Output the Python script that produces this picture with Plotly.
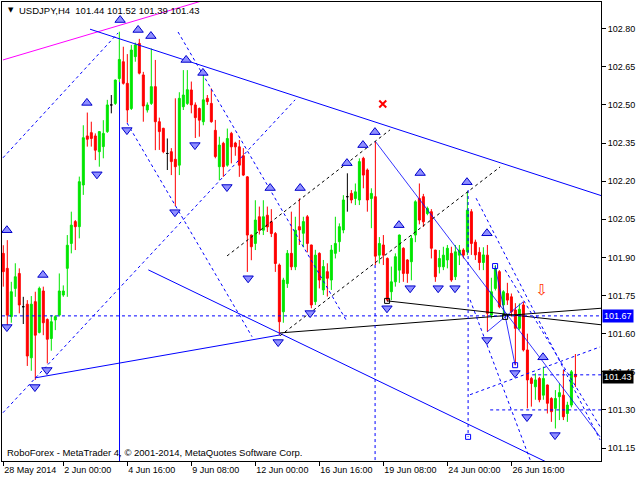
import plotly.graph_objects as go

# ---------------- data ----------------
opens = [101.916, 101.857, 101.667, 101.778, 101.837, 101.706, 101.716, 101.505, 101.726, 101.605,
         101.768, 101.656, 101.581, 101.654, 101.673, 101.752, 101.857, 101.955, 102.041, 102.021,
         102.185, 102.378, 102.391, 102.378, 102.316, 102.336, 102.395, 102.500, 102.506, 102.604,
         102.670, 102.585, 102.486, 102.690, 102.742, 102.618, 102.480, 102.506, 102.572, 102.434,
         102.408, 102.309, 102.316, 102.286, 102.263, 102.493, 102.506, 102.559, 102.500, 102.486,
         102.434, 102.526, 102.506, 102.400, 102.257, 102.349, 102.263, 102.388, 102.350, 102.335,
         102.300, 102.217, 101.988, 101.955, 102.060, 102.007, 102.066, 102.040, 101.994, 101.870,
         101.686, 101.797, 101.916, 101.863, 102.021, 101.995, 102.060, 101.949, 101.726, 101.916,
         101.772, 101.844, 101.811, 101.916, 101.962, 102.008, 102.139, 102.152, 102.132, 102.126,
         102.290, 102.244, 102.132, 102.139, 101.909, 101.949, 101.896, 101.765, 101.804, 101.850,
         101.936, 101.890, 101.883, 101.988, 102.132, 102.139, 102.073, 102.080, 101.929, 101.863,
         101.863, 101.890, 101.916, 101.824, 101.909, 101.929, 101.922, 102.080, 101.960, 101.920,
         101.880, 101.909, 101.673, 101.778, 101.844, 101.713, 101.758, 101.745, 101.693, 101.621,
         101.713, 101.536, 101.424, 101.391, 101.424, 101.358, 101.398, 101.345, 101.306, 101.352,
         101.358, 101.286, 101.319, 101.440]
highs = [101.948, 101.968, 101.804, 101.877, 101.857, 101.745, 101.732, 101.748, 101.765, 101.785,
         101.785, 101.660, 101.673, 101.673, 101.837, 101.790, 101.988, 102.080, 102.047, 102.218,
         102.420, 102.470, 102.434, 102.388, 102.395, 102.440, 102.520, 102.539, 102.600, 102.788,
         102.729, 102.700, 102.736, 102.745, 102.760, 102.630, 102.510, 102.722, 102.677, 102.450,
         102.410, 102.368, 102.330, 102.526, 102.550, 102.637, 102.637, 102.592, 102.510, 102.490,
         102.624, 102.539, 102.565, 102.441, 102.375, 102.355, 102.407, 102.394, 102.355, 102.362,
         102.330, 102.220, 101.990, 102.125, 102.100, 102.125, 102.100, 102.090, 102.000, 101.876,
         101.820, 101.929, 102.080, 102.060, 102.132, 102.060, 102.067, 101.950, 101.930, 101.920,
         101.890, 101.877, 101.949, 102.060, 102.034, 102.145, 102.231, 102.165, 102.191, 102.290,
         102.296, 102.250, 102.172, 102.355, 101.980, 101.988, 101.900, 101.864, 101.916, 101.990,
         101.940, 101.893, 101.988, 102.125, 102.191, 102.150, 102.100, 102.090, 101.930, 101.929,
         101.942, 101.949, 101.942, 101.949, 101.949, 101.936, 102.159, 102.090, 101.970, 101.940,
         101.940, 101.949, 101.820, 101.870, 101.850, 101.771, 101.800, 101.758, 101.720, 101.719,
         101.726, 101.600, 101.430, 101.444, 101.430, 101.470, 101.400, 101.350, 101.378, 101.404,
         101.457, 101.332, 101.457, 101.520]
lows = [101.785, 101.621, 101.643, 101.745, 101.680, 101.638, 101.473, 101.454, 101.418, 101.601,
        101.594, 101.483, 101.533, 101.614, 101.667, 101.745, 101.745, 101.916, 101.929, 101.975,
        102.146, 102.336, 102.336, 102.283, 102.257, 102.290, 102.390, 102.467, 102.500, 102.590,
        102.580, 102.430, 102.480, 102.670, 102.620, 102.434, 102.470, 102.500, 102.322, 102.323,
        102.310, 102.244, 102.224, 102.102, 102.224, 102.480, 102.500, 102.467, 102.370, 102.375,
        102.420, 102.500, 102.430, 102.290, 102.204, 102.217, 102.257, 102.270, 102.300, 102.217,
        102.220, 101.843, 101.889, 101.929, 101.990, 101.988, 102.000, 101.980, 101.843, 101.594,
        101.643, 101.780, 101.850, 101.850, 101.949, 101.940, 101.920, 101.700, 101.713, 101.778,
        101.752, 101.746, 101.772, 101.896, 101.922, 101.995, 102.080, 102.113, 102.106, 102.106,
        102.172, 102.080, 102.015, 101.870, 101.876, 101.870, 101.726, 101.732, 101.785, 101.800,
        101.804, 101.800, 101.810, 101.960, 102.030, 102.020, 102.066, 101.896, 101.804, 101.837,
        101.850, 101.857, 101.804, 101.811, 101.870, 101.896, 101.909, 101.910, 101.890, 101.850,
        101.850, 101.608, 101.660, 101.770, 101.700, 101.667, 101.713, 101.667, 101.476, 101.615,
        101.530, 101.306, 101.313, 101.340, 101.330, 101.340, 101.286, 101.253, 101.227, 101.260,
        101.260, 101.253, 101.310, 101.390]
closes = [101.844, 101.673, 101.765, 101.824, 101.713, 101.706, 101.512, 101.716, 101.594, 101.778,
          101.643, 101.578, 101.647, 101.667, 101.768, 101.768, 101.948, 102.027, 102.021, 102.198,
          102.371, 102.365, 102.368, 102.322, 102.395, 102.388, 102.500, 102.500, 102.598, 102.679,
          102.585, 102.480, 102.716, 102.736, 102.625, 102.496, 102.500, 102.572, 102.434, 102.395,
          102.316, 102.309, 102.277, 102.257, 102.526, 102.539, 102.560, 102.500, 102.450, 102.440,
          102.520, 102.513, 102.434, 102.297, 102.342, 102.257, 102.368, 102.335, 102.335, 102.263,
          102.224, 101.988, 101.942, 102.047, 102.007, 102.060, 102.020, 101.994, 101.876, 101.647,
          101.811, 101.916, 101.863, 102.007, 102.008, 102.041, 101.955, 101.713, 101.909, 101.811,
          101.864, 101.818, 101.929, 101.955, 102.021, 102.126, 102.139, 102.126, 102.158, 102.277,
          102.224, 102.126, 102.152, 101.905, 101.955, 101.909, 101.732, 101.804, 101.903, 101.988,
          101.837, 101.837, 101.975, 102.119, 102.047, 102.040, 102.093, 101.936, 101.824, 101.896,
          101.909, 101.936, 101.811, 101.922, 101.929, 101.909, 102.086, 101.955, 101.910, 101.880,
          101.910, 101.680, 101.765, 101.857, 101.706, 101.765, 101.732, 101.686, 101.621, 101.696,
          101.536, 101.418, 101.404, 101.418, 101.340, 101.424, 101.326, 101.293, 101.345, 101.368,
          101.273, 101.319, 101.450, 101.430]
bars = list(range(len(opens)))

tick_bars = [0, 15, 31, 47, 63, 79, 95, 111, 127]
tick_labels = ["28 May 2014", "2 Jun 00:00", "4 Jun 16:00", "9 Jun 08:00", "12 Jun 00:00",
               "16 Jun 16:00", "19 Jun 08:00", "24 Jun 00:00", "26 Jun 16:00"]
price_ticks = [101.15, 101.30, 101.45, 101.60, 101.75, 101.90, 102.05, 102.20, 102.35, 102.50, 102.65, 102.80]

up_arrow_bar = [0.9, 9.9, 20.9, 29.2, 33.7, 36.9, 45.7, 49.9, 66.7, 74.2, 85.9, 89.9, 92.9,
                98.9, 104.2, 115.9, 120.9, 134.9]
up_arrow_price = [102.007, 101.831, 102.508, 102.834, 102.795, 102.771, 102.677, 102.626, 102.173,
                  102.173, 102.271, 102.342, 102.393, 102.027, 102.232, 102.196, 101.995, 101.507]
down_arrow_bar = [0.9, 7.9, 10.9, 23.4, 30.9, 42.9, 47.9, 55.9, 61.2, 68.7, 76.7, 95.9, 101.7,
                  108.7, 112.9, 120.9, 127.9, 130.9, 137.9]
down_arrow_price = [101.626, 101.390, 101.457, 102.227, 102.401, 102.078, 102.342, 102.177, 101.818,
                    101.567, 101.681, 101.700, 101.779, 101.779, 101.779, 101.575, 101.445, 101.272, 101.201]

# drawn objects: (bar0, price0, bar1, price1)
magenta_lines = [(-0.08, 102.677, 50.43, 102.913)]
blue_solid = [(21.68, 102.798, 149.68, 102.142),
              (36.25, 101.851, 139.18, 101.069),
              (7.93, 101.426, 69.18, 101.595),
              (29.05, 102.59, 29.05, 101.099)]
blue_thin = [(92.93, 102.358, 149.18, 101.194),
             (122.93, 101.866, 127.93, 101.476),
             (120.93, 101.607, 129.93, 101.725)]
black_solid = [(69.18, 101.603, 149.43, 101.700),
               (95.93, 101.729, 149.43, 101.635)]
blue_dashed = [(-0.08, 102.292, 28.68, 102.783),
               (-0.08, 101.289, 72.93, 102.520),
               (30.93, 102.429, 62.18, 101.588),
               (43.68, 102.787, 85.93, 101.647),
               (-0.33, 101.67, 149.4, 101.67),
               (92.93, 101.87, 92.93, 101.099),
               (116.18, 102.165, 116.18, 101.194),
               (118.18, 102.133, 149.18, 101.182),
               (116.68, 101.733, 131.68, 101.104),
               (125.43, 101.851, 149.18, 101.234),
               (116.68, 101.360, 149.18, 101.548),
               (121.7, 101.300, 149.4, 101.300),
               (132.2, 101.438, 149.4, 101.438)]
black_dashed = [(55.93, 101.906, 96.68, 102.402),
                (69.18, 101.592, 124.18, 102.256)]
black_squares = [(95.93, 101.729), (125.43, 101.666)]
blue_squares = [(122.93, 101.866), (127.93, 101.476), (116.18, 101.194)]
red_cross = (94.85, 102.504)
red_sell_arrow = (134.6, 101.766)

FONT = "Liberation Sans"
GREEN = "#00e600"
RED = "#ff0000"
BLUE = "#0000ff"

fig = go.Figure()

normal = [i for i in bars if opens[i] != closes[i]]
doji = [i for i in bars if opens[i] == closes[i]]

fig.add_trace(go.Candlestick(
    x=[bars[i] for i in normal], open=[opens[i] for i in normal], high=[highs[i] for i in normal],
    low=[lows[i] for i in normal], close=[closes[i] for i in normal],
    increasing=dict(line=dict(color=GREEN, width=1), fillcolor=GREEN),
    decreasing=dict(line=dict(color=RED, width=1), fillcolor=RED),
    whiskerwidth=0, showlegend=False, hoverinfo="skip"))
fig.add_trace(go.Candlestick(
    x=[bars[i] for i in doji], open=[opens[i] for i in doji], high=[highs[i] for i in doji],
    low=[lows[i] for i in doji], close=[closes[i] for i in doji],
    increasing=dict(line=dict(color="black", width=1), fillcolor="black"),
    decreasing=dict(line=dict(color="black", width=1), fillcolor="black"),
    whiskerwidth=0, showlegend=False, hoverinfo="skip"))


def add_segments(segs, color, width, dash="solid"):
    xs, ys = [], []
    for b0, p0, b1, p1 in segs:
        xs += [b0, b1, None]
        ys += [p0, p1, None]
    fig.add_trace(go.Scatter(x=xs, y=ys, mode="lines", line=dict(color=color, width=width, dash=dash),
                             showlegend=False, hoverinfo="skip", connectgaps=False))


add_segments(magenta_lines, "#ff00ff", 1)
add_segments(blue_solid, BLUE, 1)
add_segments(blue_thin, BLUE, 0.8)
add_segments(black_solid, "black", 1)
add_segments(blue_dashed, BLUE, 1, "3px,3px")
add_segments(black_dashed, "black", 1, "3px,3px")

fig.add_trace(go.Scatter(x=[b for b, p in black_squares], y=[p for b, p in black_squares], mode="markers",
                         marker=dict(symbol="square-open", size=5, color="black", line=dict(width=1)),
                         showlegend=False, hoverinfo="skip"))
fig.add_trace(go.Scatter(x=[b for b, p in blue_squares], y=[p for b, p in blue_squares], mode="markers",
                         marker=dict(symbol="square-open", size=5, color=BLUE, line=dict(width=1)),
                         showlegend=False, hoverinfo="skip"))

fig.add_trace(go.Scatter(x=up_arrow_bar, y=up_arrow_price, mode="markers",
                         marker=dict(symbol="triangle-up", size=9, color="#8f8fff",
                                     line=dict(color="#0000cc", width=1)),
                         showlegend=False, hoverinfo="skip"))
fig.add_trace(go.Scatter(x=down_arrow_bar, y=down_arrow_price, mode="markers",
                         marker=dict(symbol="triangle-down", size=9, color="#8f8fff",
                                     line=dict(color="#0000cc", width=1)),
                         showlegend=False, hoverinfo="skip"))
fig.add_trace(go.Scatter(x=[red_cross[0]], y=[red_cross[1]], mode="markers",
                         marker=dict(symbol="x-thin", size=7, line=dict(color=RED, width=2)),
                         showlegend=False, hoverinfo="skip"))
fig.add_trace(go.Scatter(x=[red_sell_arrow[0]], y=[red_sell_arrow[1]], mode="text", text=["⇩"],
                         textfont=dict(family="DejaVu Sans", size=15, color="#ff3300"),
                         showlegend=False, hoverinfo="skip"))

# plot area in pixels: x 2..601, y 2..461
def px(xp):
    return (xp - 2) / 599.0


def py(yp):
    return (461 - yp) / 459.0


fig.add_annotation(x=px(6), y=py(10), xref="paper", yref="paper", text="▼", showarrow=False,
                   xanchor="left", yanchor="middle", font=dict(family="DejaVu Sans", size=7, color="black"))
fig.add_annotation(x=px(17), y=py(10), xref="paper", yref="paper",
                   text="USDJPY,H4  101.44 101.52 101.39 101.43", showarrow=False,
                   xanchor="left", yanchor="middle", font=dict(family=FONT, size=9.5, color="black"))
fig.add_annotation(x=px(5), y=py(452), xref="paper", yref="paper",
                   text="RoboForex - MetaTrader 4, © 2001-2014, MetaQuotes Software Corp.", showarrow=False,
                   xanchor="left", yanchor="middle", font=dict(family=FONT, size=9.5, color="black"))
fig.add_annotation(x=px(602), y=101.67, xref="paper", yref="y", text="101.67", showarrow=False,
                   xanchor="left", yanchor="middle", bgcolor=BLUE, borderpad=1,
                   font=dict(family=FONT, size=9, color="white"))
fig.add_annotation(x=px(602), y=101.43, xref="paper", yref="y", text="101.43", showarrow=False,
                   xanchor="left", yanchor="middle", bgcolor="black", borderpad=1,
                   font=dict(family=FONT, size=9, color="white"))

fig.update_layout(
    width=640, height=480,
    margin=dict(l=2, r=39, t=2, b=19),
    paper_bgcolor="white", plot_bgcolor="white",
    showlegend=False,
    xaxis=dict(range=[-0.325, 149.4], showgrid=False, zeroline=False, showline=True, linecolor="black",
               linewidth=1, mirror=True, ticks="outside", ticklen=4, tickcolor="black",
               tickvals=tick_bars, ticktext=tick_labels, ticklabelposition="outside right",
               tickfont=dict(family=FONT, size=9, color="black"), rangeslider=dict(visible=False),
               fixedrange=True),
    yaxis=dict(range=[101.099, 102.905], side="right", showgrid=False, zeroline=False, showline=True,
               linecolor="black", linewidth=1, mirror=True, ticks="outside", ticklen=4, tickcolor="black",
               tickvals=price_ticks, ticktext=["%.2f" % v for v in price_ticks],
               tickfont=dict(family=FONT, size=9, color="black"), fixedrange=True),
)

fig.write_html("out.html", config={"displayModeBar": False},
               post_script="document.body.style.margin='0';document.body.style.padding='0';"
                           "document.body.style.overflow='hidden';")
